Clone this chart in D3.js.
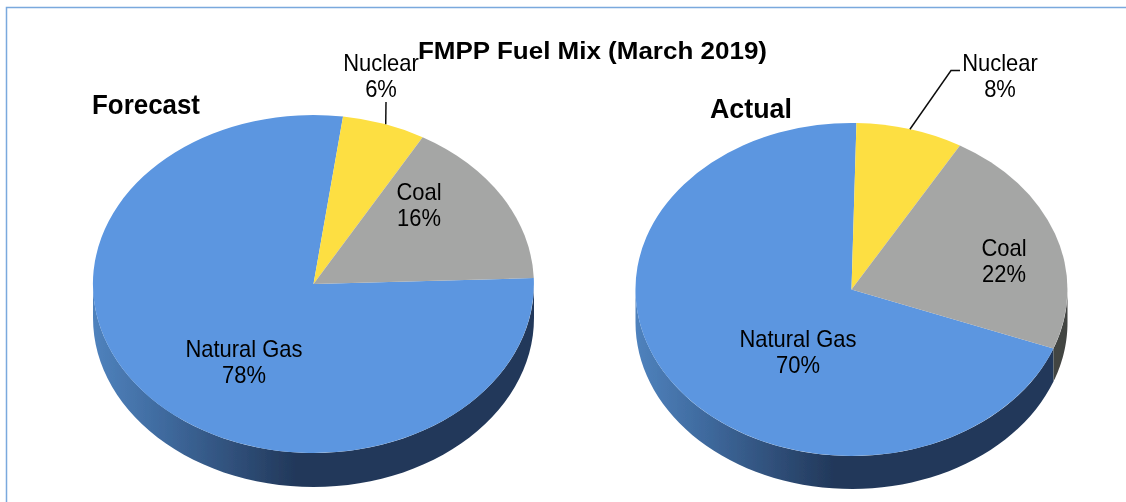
<!DOCTYPE html>
<html>
<head>
<meta charset="utf-8">
<script src="https://cdn.jsdelivr.net/npm/d3@7/dist/d3.min.js"></script>
<style>
  html, body { margin: 0; padding: 0; background: #fff; }
  svg { display: block; }
  text { font-family: "Liberation Sans", Arial, sans-serif; fill: #000; }
</style>
</head>
<body>
<svg id="chart" width="1126" height="502"></svg>
<script>
const fuels = ['Natural Gas', 'Nuclear', 'Coal'];
const forecastShares = [77.7, 6.1, 16.2];
const actualShares = [69.6, 8.0, 22.4];

const chartTitle = 'FMPP Fuel Mix (March 2019)';
const pieTitles = ['Forecast', 'Actual'];

const fuelColor = d3.scaleOrdinal()
  .domain(fuels)
  .range(['#5b96e0', '#fddf42', '#a5a6a5']);

const TAU = Math.PI * 2;
const width = 1126;
const height = 502;
const labelSqueeze = 0.955;

const svg = d3.select('#chart');
const defs = svg.append('defs');

// The source is an upscaled screenshot, so everything is a little soft
defs.append('filter')
  .attr('id', 'soft')
  .append('feGaussianBlur')
  .attr('stdDeviation', 0.5);

const root = svg.append('g').attr('filter', 'url(#soft)');

// Frame around the chart, open at the right and bottom
root.append('path')
  .attr('d', d3.line()([[6.5, height], [6.5, 7.5], [width, 7.5]]))
  .attr('fill', 'none')
  .attr('stroke', '#7aa9dd')
  .attr('stroke-width', 1.5);

root.append('text')
  .attr('x', 418)
  .attr('y', 59)
  .attr('font-size', 24)
  .attr('font-weight', 'bold')
  .attr('textLength', 349)
  .attr('lengthAdjust', 'spacingAndGlyphs')
  .text(chartTitle);

const pies = [
  {
    id: 'forecast',
    title: pieTitles[0],
    shares: forecastShares,
    cx: 313.5, cy: 284, rx: 220.5, ry: 169, depth: 34,
    firstSliceEnd: 7.7,
    titleX: 92, titleY: 114, titleLength: 108,
    labels: {
      'Natural Gas': [244, 357],
      Nuclear: [381, 71],
      Coal: [419, 200]
    },
    leaderAt: 0.52,
    leader: [[386, 102]]
  },
  {
    id: 'actual',
    title: pieTitles[1],
    shares: actualShares,
    cx: 851.5, cy: 289.5, rx: 216, ry: 166.5, depth: 33,
    firstSliceEnd: 1.3,
    titleX: 710, titleY: 118, titleLength: 82,
    labels: {
      'Natural Gas': [798, 347],
      Nuclear: [1000, 71],
      Coal: [1004, 256]
    },
    leaderAt: 0.5,
    leader: [[951, 70.5], [960, 70.5]]
  }
];

pies.forEach(drawPie);

function drawPie(p) {
  const x = d3.scaleLinear().domain([-1, 1]).range([p.cx - p.rx, p.cx + p.rx]);
  const y = d3.scaleLinear().domain([-1, 1]).range([p.cy - p.ry, p.cy + p.ry]);

  // Natural gas ends just past twelve o'clock, the others follow clockwise
  const end = p.firstSliceEnd * Math.PI / 180;
  const first = (p.shares[0] / 100) * TAU;
  const slices = d3.pie().sort(null)
    .startAngle(end - first)
    .endAngle(end - first + TAU)(p.shares)
    .map((d, i) => ({ ...d, fuel: fuels[i] }));

  const point = (a, dy = 0) => [x(Math.sin(a)), y(-Math.cos(a)) + dy];

  // Side wall, shaded from left to right
  const shade = defs.append('linearGradient')
    .attr('id', `wall-${p.id}`)
    .attr('gradientUnits', 'userSpaceOnUse')
    .attr('x1', x(-1)).attr('x2', x(1))
    .attr('y1', 0).attr('y2', 0);
  shade.append('stop').attr('offset', 0).attr('stop-color', '#4f82bd');
  shade.append('stop').attr('offset', 0.16).attr('stop-color', '#3f6a9e');
  shade.append('stop').attr('offset', 0.46).attr('stop-color', '#22385a');
  shade.append('stop').attr('offset', 1).attr('stop-color', '#22385a');

  const wallColor = {
    'Natural Gas': `url(#wall-${p.id})`,
    Coal: '#434443',
    Nuclear: '#7f6f21'
  };

  // Only the front half of the rim is visible (quarter turn to three quarters)
  root.append('g').selectAll('path')
    .data(slices.flatMap((s) => [0, TAU].map((turn) => {
      const a0 = Math.max(s.startAngle + turn, Math.PI / 2);
      const a1 = Math.min(s.endAngle + turn, Math.PI * 1.5);
      return { fuel: s.fuel, a0, a1 };
    })).filter((w) => w.a1 > w.a0))
    .join('path')
    .attr('fill', (w) => wallColor[w.fuel])
    .attr('d', (w) => {
      const angles = d3.range(0, 61).map((k) => w.a0 + (w.a1 - w.a0) * k / 60);
      const top = angles.map((a) => point(a));
      const bottom = angles.map((a) => point(a, p.depth)).reverse();
      return d3.line()([...top, ...bottom]) + 'Z';
    });

  // Top face: a unit pie stretched to the ellipse
  const arc = d3.arc().innerRadius(0).outerRadius(1);
  root.append('g')
    .attr('transform', `translate(${x(0)},${y(0)}) scale(${p.rx},${p.ry})`)
    .selectAll('path')
    .data(slices)
    .join('path')
    .attr('fill', (d) => fuelColor(d.fuel))
    .attr('d', arc);

  // Leader from the rim of the nuclear slice to its label
  const nuclear = slices.find((d) => d.fuel === 'Nuclear');
  const rim = point(nuclear.startAngle + (nuclear.endAngle - nuclear.startAngle) * p.leaderAt);
  root.append('path')
    .attr('d', d3.line()([rim, ...p.leader]))
    .attr('fill', 'none')
    .attr('stroke', '#111')
    .attr('stroke-width', 1.5);

  root.append('text')
    .attr('x', p.titleX)
    .attr('y', p.titleY)
    .attr('font-size', 27)
    .attr('font-weight', 'bold')
    .attr('textLength', p.titleLength)
    .attr('lengthAdjust', 'spacingAndGlyphs')
    .text(p.title);

  // Each label is two lines: fuel name, then the rounded share
  const labels = root.append('g')
    .selectAll('g')
    .data(slices)
    .join('g')
    .attr('transform', (d) => `translate(${p.labels[d.fuel]}) scale(${labelSqueeze},1)`)
    .attr('text-anchor', 'middle')
    .attr('font-size', 23);
  labels.append('text').text((d) => d.fuel);
  labels.append('text')
    .attr('y', 26)
    .text((d) => `${Math.round(d.value)}%`);
}
</script>
</body>
</html>
